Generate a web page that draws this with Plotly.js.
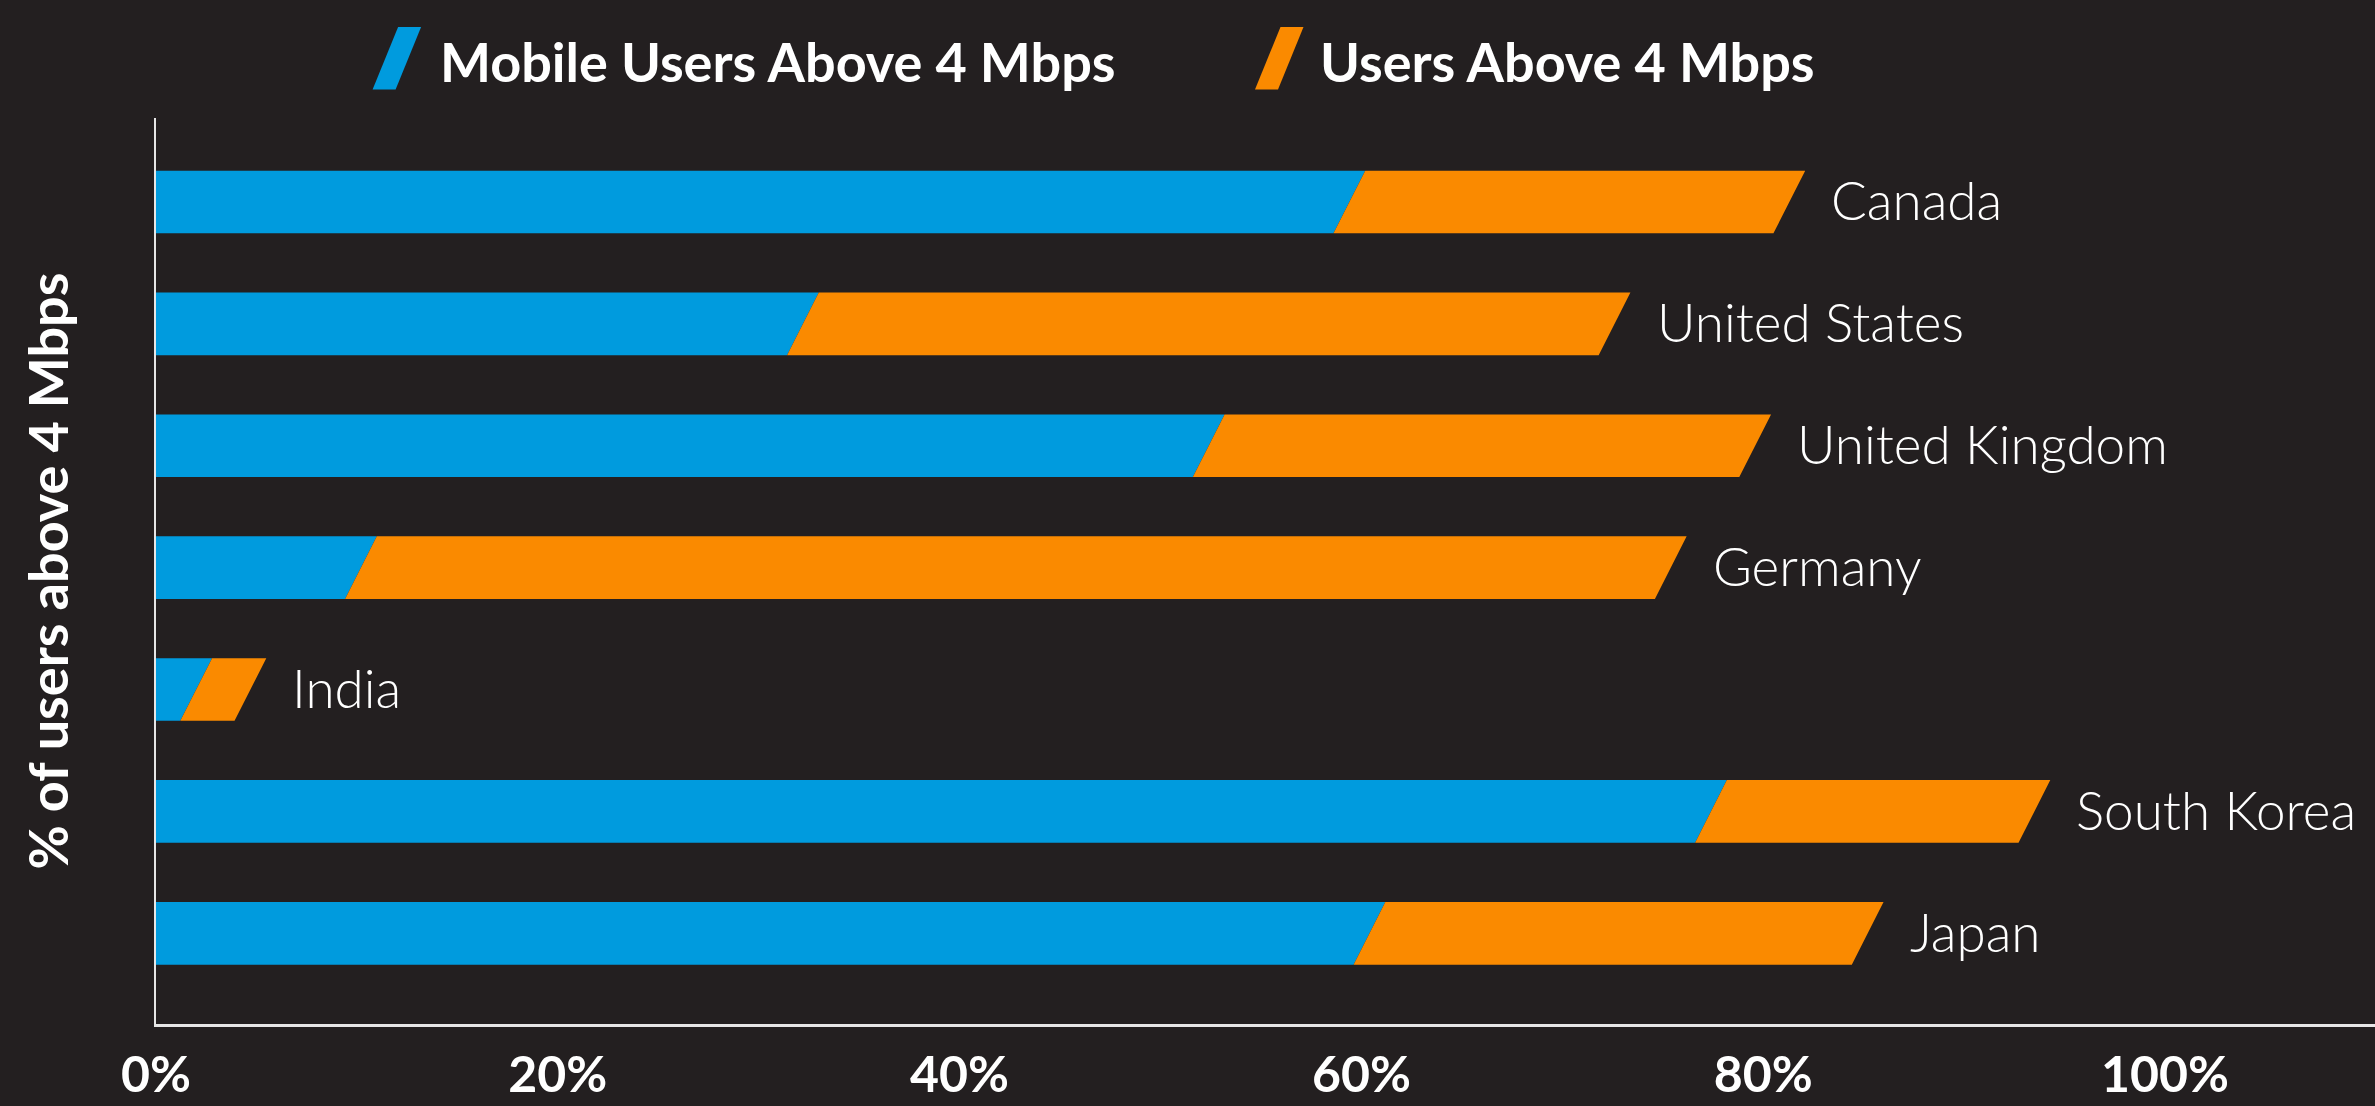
<!DOCTYPE html>
<html>
<head>
<meta charset="utf-8">
<script src="https://cdn.plot.ly/plotly-3.0.1.min.js"></script>
<style>
  html, body { margin: 0; padding: 0; background: #231F20; }
  #chart { width: 2375px; height: 1106px; }
</style>
</head>
<body>
<div id="chart"></div>
<script>
// ---- Data ----
const countries = ['Canada', 'United States', 'United Kingdom', 'Germany', 'India', 'South Korea', 'Japan'];
const mobileAbove4 = [59.4, 32.2, 52.4, 10.2, 2.0, 77.4, 60.4];
const usersAbove4  = [81.3, 72.6, 79.6, 75.4, 4.7, 93.5, 85.2];
const seriesNames  = ['Mobile Users Above 4 Mbps', 'Users Above 4 Mbps'];
const tickValues   = [0, 20, 40, 60, 80, 100];
const tickLabels   = ['0%', '20%', '40%', '60%', '80%', '100%'];
const yAxisTitle   = '% of users above 4 Mbps';

// ---- Style ----
const BG = '#231F20';
const BLUE = '#009BDE';
const ORANGE = '#FA8A00';
const FONT = 'Lato, "Open Sans", "DejaVu Sans", sans-serif';
const W = 2375, H = 1106;
const M = {l: 156, r: 0, t: 118, b: 82};
const HALF_H = 0.257;   // half bar thickness in category units
const SLANT = 0.79;     // half horizontal slant in % units

// Build slanted bar polygons from the data
function polys(startArr, endArr) {
  const xs = [], ys = [];
  countries.forEach((c, i) => {
    const a = startArr ? startArr[i] : null;
    const b = endArr[i];
    const top = i - HALF_H, bot = i + HALF_H;
    if (a === null) {
      xs.push(0, b + SLANT, b - SLANT, 0, 0, null);
      ys.push(top, top, bot, bot, top, null);
    } else {
      xs.push(a + SLANT, b + SLANT, b - SLANT, a - SLANT, a + SLANT, null);
      ys.push(top, top, bot, bot, top, null);
    }
  });
  return {xs, ys};
}

const pBlue = polys(null, mobileAbove4);
const pOrange = polys(mobileAbove4, usersAbove4);

const traces = [
  {
    type: 'scatter', mode: 'lines', name: seriesNames[0],
    x: pBlue.xs, y: pBlue.ys, fill: 'toself', fillcolor: BLUE,
    line: {width: 0, color: BLUE}, hoverinfo: 'skip', showlegend: false
  },
  {
    type: 'scatter', mode: 'lines', name: seriesNames[1],
    x: pOrange.xs, y: pOrange.ys, fill: 'toself', fillcolor: ORANGE,
    line: {width: 0, color: ORANGE}, hoverinfo: 'skip', showlegend: false
  }
];

// helpers: pixel -> paper
const PW = W - M.l - M.r, PH = H - M.t - M.b;
const px = v => (v - M.l) / PW;
const py = v => (H - M.b - v) / PH;

// Custom legend (slash swatches + text)
const legendItems = [
  {name: seriesNames[0], color: BLUE, slashBottomLeft: 372.6, textX: 438},
  {name: seriesNames[1], color: ORANGE, slashBottomLeft: 1255, textX: 1318},
];
const SL_TOP = 27, SL_BOT = 89.5, SL_W = 23, SL_SLANT = 25.5;
const shapes = legendItems.map(it => {
  const bl = it.slashBottomLeft;
  const pts = [
    [bl + SL_SLANT, SL_TOP], [bl + SL_SLANT + SL_W, SL_TOP],
    [bl + SL_W, SL_BOT], [bl, SL_BOT]
  ];
  const path = 'M ' + pts.map(p => px(p[0]) + ',' + py(p[1])).join(' L ') + ' Z';
  return {type: 'path', xref: 'paper', yref: 'paper', path: path,
          fillcolor: it.color, line: {width: 0}, layer: 'above'};
});

const annotations = [];
legendItems.forEach(it => {
  annotations.push({
    xref: 'paper', yref: 'paper', x: px(it.textX), y: py(62),
    xanchor: 'left', yanchor: 'middle', showarrow: false,
    text: it.name,
    font: {family: FONT, size: 54, color: '#FFFFFF', weight: 700}
  });
});
// Country labels at end of each bar
countries.forEach((c, i) => {
  annotations.push({
    xref: 'x', yref: 'y', x: usersAbove4[i], y: i,
    xanchor: 'left', yanchor: 'middle', xshift: 40, yshift: 2,
    showarrow: false, text: c,
    font: {family: FONT, size: 53, color: '#FFFFFF', weight: 300}
  });
});

const layout = {
  width: W, height: H,
  margin: M,
  paper_bgcolor: BG, plot_bgcolor: BG,
  showlegend: false,
  xaxis: {
    range: [0, (W - M.l - M.r) / 20.09],
    tickvals: tickValues, ticktext: tickLabels,
    showgrid: false, zeroline: false,
    showline: true, linecolor: '#E6E6E6', linewidth: 3,
    ticks: '', ticklabelstandoff: 5,
    tickfont: {family: FONT, size: 50, color: '#FFFFFF', weight: 700},
    fixedrange: true
  },
  yaxis: {
    range: [6.744, -0.689],
    showticklabels: false,
    showgrid: false, zeroline: false,
    showline: true, linecolor: '#E6E6E6', linewidth: 2,
    ticks: '',
    title: {text: yAxisTitle, standoff: 68,
            font: {family: FONT, size: 54, color: '#FFFFFF', weight: 700}},
    fixedrange: true
  },
  shapes: shapes,
  annotations: annotations
};

Plotly.newPlot('chart', traces, layout, {displayModeBar: false, staticPlot: true});
</script>
</body>
</html>
